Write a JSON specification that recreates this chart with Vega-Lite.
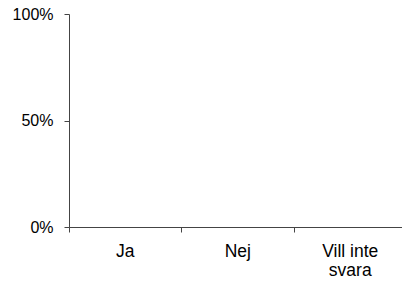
{
  "$schema": "https://vega.github.io/schema/vega-lite/v6.json",
  "autosize": "none",
  "width": 333,
  "height": 213,
  "padding": {"left": 69, "top": 14, "right": 0, "bottom": 54},
  "background": "white",
  "config": {"view": {"stroke": null}, "font": "Liberation Sans"},
  "data": {"values": [
    {"svar": "Ja", "andel": 0},
    {"svar": "Nej", "andel": 0},
    {"svar": "Vill inte svara", "andel": 0}
  ]},
  "mark": {"type": "bar", "color": "#4f81bd"},
  "encoding": {
    "x": {
      "field": "svar", "type": "nominal", "sort": null,
      "scale": {"range": [0, 337.5], "paddingInner": 0, "paddingOuter": 0},
      "axis": {
        "title": null, "labelAngle": 0, "bandPosition": 0,
        "domainColor": "#444444", "tickColor": "#444444", "tickSize": 5,
        "labelColor": "black", "labelFontSize": 17.5, "labelPadding": 10,
        "labelLineHeight": 19,
        "labelExpr": "datum.value == 'Vill inte svara' ? ['Vill inte', 'svara'] : datum.value"
      }
    },
    "y": {
      "field": "andel", "type": "quantitative",
      "scale": {"domain": [0, 1], "nice": false},
      "axis": {
        "title": null, "values": [0, 0.5, 1], "format": ".0%", "grid": false,
        "domainColor": "#444444", "tickColor": "#444444", "tickSize": 5,
        "labelColor": "black", "labelFontSize": 16, "labelPadding": 11
      }
    }
  }
}
